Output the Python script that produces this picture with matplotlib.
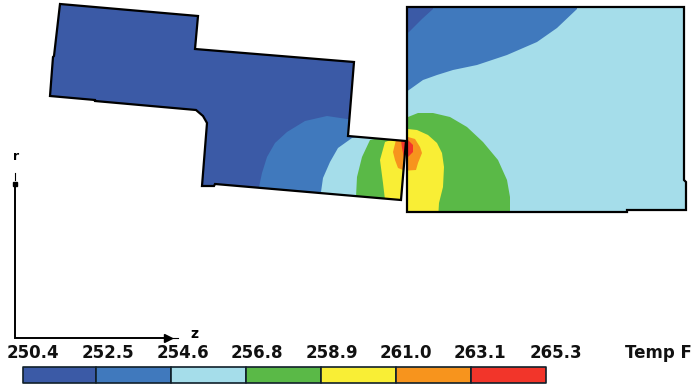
#temperature contour of the two bodies, r-z section
import matplotlib
matplotlib.use('Agg')
import matplotlib.pyplot as plt
from matplotlib.patches import Polygon

#contour levels and colours
levels = ['250.4', '252.5', '254.6', '256.8', '258.9', '261.0', '263.1', '265.3']
colors = ['#3b5aa6', '#4079bd', '#a5ddea', '#5ab947', '#f9ee35', '#f7941d', '#f2352a']
cell_edges = [23, 96, 171, 246, 321, 396, 471, 546]
label_x = [33, 108, 183, 257, 332, 406, 480, 556]

#outlines of the two bodies
left_outline = [(60, 4), (198, 16), (195, 49), (354, 62), (348, 136), (406, 141), (401, 200),
                (215, 184), (214, 186), (202, 186), (207, 123), (203, 116), (196, 110),
                (95, 101), (95, 100), (50, 96), (53, 57), (54, 56)]
right_outline = [(407, 7), (684, 7), (684, 180), (686, 182), (686, 210), (627, 210),
                 (627, 212), (407, 212)]

#isotherm regions, left body
left_mid = [(258, 190), (259, 187), (262, 173), (267, 157), (275, 143), (287, 132), (305, 121),
            (327, 116), (347, 119), (420, 118), (420, 210), (258, 210)]
left_light = [(320, 195), (321, 192), (323, 178), (330, 162), (338, 148), (352, 138), (420, 130),
              (420, 210)]
left_green = [(356, 197), (357, 177), (362, 157), (370, 140), (420, 130), (420, 210)]
left_yellow = [(385, 200), (383, 183), (380, 160), (385, 142), (420, 130), (420, 210)]
left_orange = [(396, 140), (393, 152), (395, 160), (398, 168), (403, 170), (412, 171), (412, 135)]
left_red = [(401, 140), (402, 148), (404, 158), (412, 162), (412, 135)]

#isotherm regions, right body
right_dark = [(400, 38), (409, 32), (422, 19), (433, 9), (433, 0), (400, 0)]
right_mid = [(400, 95), (409, 90), (423, 80), (437, 75), (453, 70), (477, 65), (507, 55),
             (537, 42), (557, 28), (577, 9), (577, 0), (400, 0)]
right_green = [(400, 118), (408, 117), (418, 113), (433, 113), (450, 117), (467, 127), (483, 142),
               (498, 160), (507, 180), (510, 197), (510, 220), (400, 220)]
right_yellow = [(400, 129), (408, 129), (417, 130), (428, 135), (437, 143), (442, 153), (444, 167),
                (443, 187), (439, 203), (438, 220), (400, 220)]
right_orange = [(400, 137), (408, 137), (415, 139), (420, 147), (422, 153), (418, 163), (416, 170),
                (400, 171)]
right_red = [(400, 139), (408, 140), (413, 145), (413, 152), (408, 157), (400, 157)]

left_regions = [(left_mid, 1), (left_light, 2), (left_green, 3), (left_yellow, 4),
                (left_orange, 5), (left_red, 6)]
right_regions = [(right_mid, 1), (right_dark, 0), (right_green, 3), (right_yellow, 4),
                 (right_orange, 5), (right_red, 6)]

fig = plt.figure(figsize=(7, 3.87), dpi=100)
ax = fig.add_axes([0, 0, 1, 1])
ax.set_xlim(0, 700)
ax.set_ylim(387, 0)
ax.axis('off')


def draw_body(outline, base, regions):
    body = Polygon(outline, closed=True, fc=colors[base], ec='none', zorder=1)
    ax.add_patch(body)
    for pts, c in regions:
        p = Polygon(pts, closed=True, fc=colors[c], ec='none', zorder=2)
        ax.add_patch(p)
        p.set_clip_path(body)
    ax.add_patch(Polygon(outline, closed=True, fc='none', ec='black', lw=1.6, zorder=3))


draw_body(left_outline, 0, left_regions)
draw_body(right_outline, 2, right_regions)

#r-z axes
ax.plot([14.5, 14.5, 166], [183, 337.5, 337.5], color='black', lw=1.4, solid_joinstyle='miter')
ax.plot([14.5, 14.5], [180, 173], color='black', lw=0.8)
ax.plot([14.5], [184], marker='s', ms=3.5, color='black')
ax.plot([166, 178], [337.5, 337.5], color='black', lw=0.8)
ax.plot([168], [337.5], marker='>', ms=5.5, color='black')
ax.text(16, 156, 'r', fontsize=9, fontweight='bold', ha='center', va='center')
ax.text(194, 334, 'z', fontsize=10, fontweight='bold', ha='center', va='center')

#colour bar
for i in range(len(colors)):
    ax.fill_between([cell_edges[i], cell_edges[i + 1]], 367, 383, fc=colors[i], ec='#10202a', lw=1.2)
for x, lab in zip(label_x, levels):
    ax.text(x, 353, lab, fontsize=12, fontweight='bold', ha='center', va='center', color='#111111')
ax.text(658, 353, 'Temp F', fontsize=12, fontweight='bold', ha='center', va='center', color='#111111')

fig.savefig('out.png', dpi=100)
